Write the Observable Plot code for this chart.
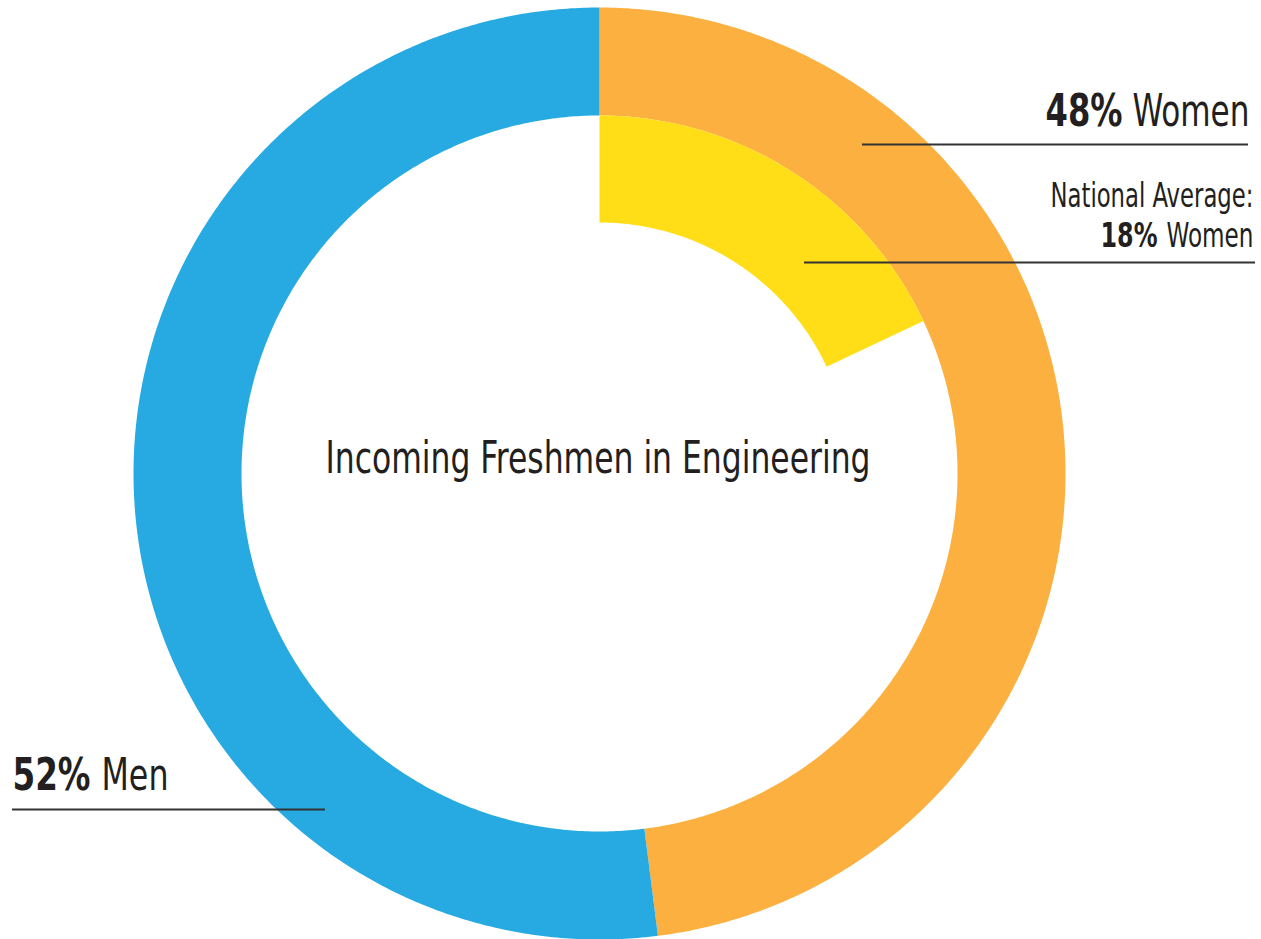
<!DOCTYPE html>
<html>
<head>
<meta charset="utf-8">
<script src="https://cdn.jsdelivr.net/npm/d3@7"></script>
<script src="https://cdn.jsdelivr.net/npm/@observablehq/plot@0.6"></script>
<style>
  html, body { margin: 0; padding: 0; background: #fff; }
  #chart svg { display: block; }
</style>
</head>
<body>
<div id="chart"></div>
<script>
// ---- data ----
const categories = ["Women", "Men"];
const shares = [48, 52];                // percent of incoming freshmen
const sliceColors = ["#FBB040", "#27AAE1"];
const nationalLabel = "National Average:";
const nationalCategory = "Women";
const nationalShare = 18;               // percent, national average
const nationalColor = "#FFDE17";
const centerTitle = "Incoming Freshmen in Engineering";

// ---- geometry (chart layout, in pixel units of the linear scales) ----
const W = 1261, H = 939;
const cx = 599, cy = 473;
const rOuter = 466, rInner = 358, rNatInner = 251;

function arcPolygon(key, startPct, endPct, r0, r1) {
  const a0 = startPct / 100 * 2 * Math.PI, a1 = endPct / 100 * 2 * Math.PI;
  const n = Math.max(8, Math.ceil((a1 - a0) / (Math.PI / 360)));
  const pts = [];
  for (let i = 0; i <= n; i++) {
    const a = a0 + (a1 - a0) * i / n;
    pts.push({key, x: cx + r1 * Math.sin(a), y: cy - r1 * Math.cos(a)});
  }
  for (let i = n; i >= 0; i--) {
    const a = a0 + (a1 - a0) * i / n;
    pts.push({key, x: cx + r0 * Math.sin(a), y: cy - r0 * Math.cos(a)});
  }
  return pts;
}

let acc = 0;
const ring = [];
categories.forEach((c, i) => {
  ring.push(...arcPolygon(c, acc, acc + shares[i], rInner, rOuter));
  acc += shares[i];
});
const national = arcPolygon("national", 0, nationalShare, rNatInner, rInner);

const font = '"DejaVu Sans Condensed", "DejaVu Sans", sans-serif';
const ink = "#231F20";

// label layout: anchor x, baseline y, anchor side, font size, target text width (condensed face)
const boldLabels = [
  {x: 1122, y: 125, anchor: "end",   text: `${shares[0]}%`, size: 44, w: 77},
  {x: 1157, y: 246, anchor: "end",   text: `${nationalShare}%`, size: 33, w: 57},
  {x: 12,   y: 789, anchor: "start", text: `${shares[1]}%`, size: 44, w: 78}
];
const plainLabels = [
  {x: 1249,  y: 125, anchor: "end",    text: categories[0], size: 44, w: 117},
  {x: 1253,  y: 246, anchor: "end",    text: nationalCategory, size: 33, w: 87},
  {x: 101,   y: 789, anchor: "start",  text: categories[1], size: 44, w: 67},
  {x: 1253,  y: 206, anchor: "end",    text: nationalLabel, size: 33, w: 203},
  {x: 597.5, y: 472, anchor: "middle", text: centerTitle, size: 44, w: 545}
];
const leaders = [
  {y: 144, x1: 862, x2: 1248},
  {y: 262, x1: 804, x2: 1255},
  {y: 809, x1: 12,  x2: 325}
];

const textMarks = (rows, bold) => ["start", "middle", "end"].map(a =>
  Plot.text(rows.filter(d => d.anchor === a), {
    x: "x", y: "y", text: "text", fontSize: d => d.size, textAnchor: a, lineAnchor: "bottom",
    fontFamily: font, fontWeight: bold ? "bold" : "normal", fill: ink
  })
);

const plot = Plot.plot({
  width: W, height: H,
  margin: 0,
  x: {domain: [0, W], range: [0, W], axis: null},
  y: {domain: [0, H], range: [0, H], axis: null},
  color: {domain: [...categories, "national"], range: [...sliceColors, nationalColor]},
  marks: [
    Plot.line(ring, {x: "x", y: "y", z: "key", fill: "key", stroke: "none", curve: "linear-closed"}),
    Plot.line(national, {x: "x", y: "y", z: "key", fill: "key", stroke: "none", curve: "linear-closed"}),
    Plot.ruleY(leaders, {y: "y", x1: "x1", x2: "x2", stroke: "#333333", strokeWidth: 1.8}),
    ...textMarks(boldLabels, true),
    ...textMarks(plainLabels, false)
  ]
});
document.getElementById("chart").appendChild(plot);

// compress glyphs horizontally to mimic the condensed face of the original
const targets = [...boldLabels.map(d => ({...d, bold: true})), ...plainLabels.map(d => ({...d, bold: false}))];
plot.querySelectorAll("text").forEach(t => {
  const fw = t.closest("[font-weight]");
  const isBold = !!(fw && fw.getAttribute("font-weight") === "bold");
  const fsEl = t.hasAttribute("font-size") ? t : t.closest("[font-size]");
  const fs = fsEl ? parseFloat(fsEl.getAttribute("font-size")) : 0;
  const m = targets.find(d => d.text === t.textContent && d.bold === isBold && (!fs || d.size === fs));
  if (m) {
    t.setAttribute("textLength", m.w);
    t.setAttribute("lengthAdjust", "spacingAndGlyphs");
  }
});
</script>
</body>
</html>
